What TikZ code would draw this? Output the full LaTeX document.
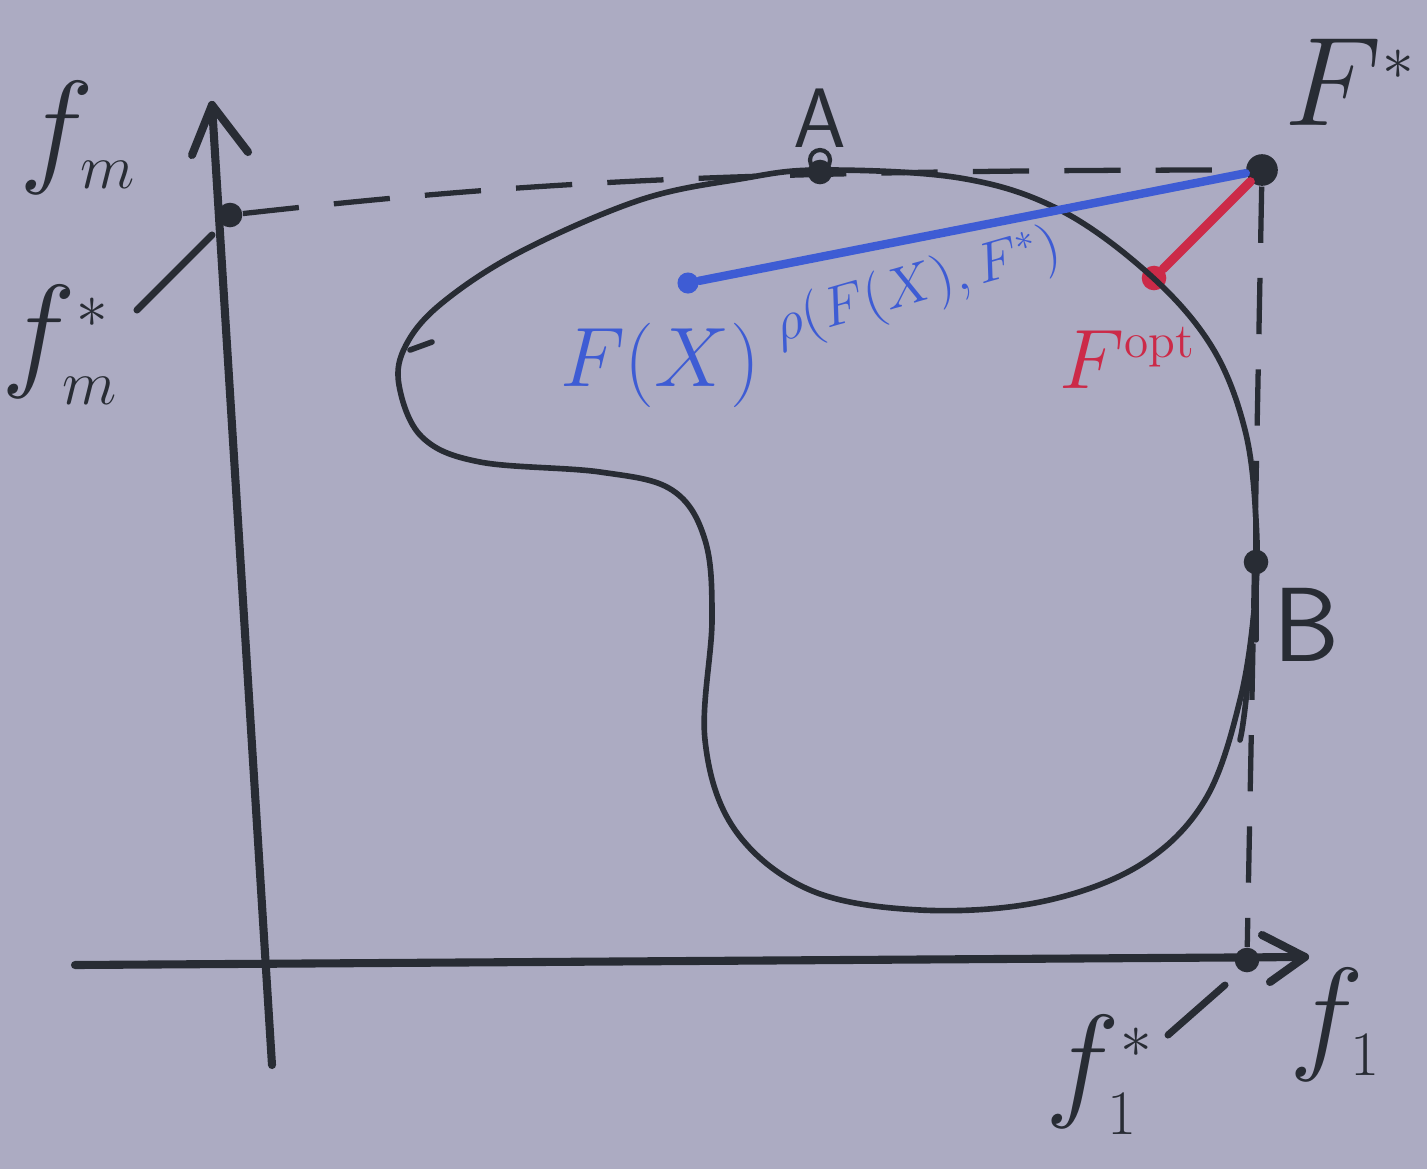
\RequirePackage{fix-cm}
\documentclass[tikz,border=0pt]{standalone}
\usepackage{amsmath}
\DeclareMathSizes{36}{36}{18}{14}
\DeclareMathSizes{30}{30}{16}{12}
\DeclareMathSizes{24}{24}{14}{10}
\DeclareMathSizes{16}{16}{11}{8}
\definecolor{bgc}{RGB}{172,171,194}
\definecolor{ink}{RGB}{40,44,52}
\definecolor{bink}{RGB}{62,92,212}
\definecolor{rink}{RGB}{204,42,72}
\tikzset{
  axisline/.style={ink,line width=2.3pt,line cap=round,line join=round},
  curveline/.style={ink,line width=1.6pt,line cap=round},
  dashline/.style={ink,line width=1.5pt,dash pattern=on 16pt off 10pt},
  dotnode/.style={circle,fill=ink,inner sep=0pt,minimum size=7pt},
  lbl/.style={text=ink,inner sep=0pt},
  bigf/.style={font=\fontsize{36}{42}\selectfont},
  midf/.style={font=\fontsize{30}{36}\selectfont},
  smallf/.style={font=\fontsize{24}{28}\selectfont},
}
\begin{document}
\begin{tikzpicture}[x=0.01cm,y=-0.01cm]
\fill[bgc] (0,0) rectangle (1427,1169);
\useasboundingbox (0,0) rectangle (1427,1169);

% axes
\coordinate (ybot) at (272,1065);
\coordinate (ytop) at (212,105);
\coordinate (xleft) at (75,965);
\coordinate (xright) at (1305,957);
\draw[axisline] (ybot) -- (ytop);
\draw[axisline] (192,155) -- (ytop) -- (248,152);
\draw[axisline] (xleft) -- (xright);
\draw[axisline] (1262,935) -- (xright) -- (1270,982);

% points
\node[dotnode] (fmstar) at (230,215) {};
\node[dotnode,minimum size=9pt] (Fstar) at (1262,170) {};
\node[dotnode] (f1star) at (1247,960) {};
\node[dotnode] (A) at (820,172) {};
\node[dotnode] (B) at (1256,562) {};
\node[circle,fill=bink,inner sep=0pt,minimum size=6pt] (FX) at (688,283) {};
\node[circle,fill=rink,inner sep=0pt,minimum size=7pt] (Fopt) at (1154,278) {};
\draw[ink,line width=1.2pt] (820,160) circle (10);

% dashed lines
\draw[dashline] (fmstar) .. controls (500,185) and (700,170) .. (Fstar);
\draw[dashline] (Fstar) -- (f1star);

% the blob
\draw[curveline] plot[smooth cycle,tension=0.6] coordinates {
 (820,170) (960,178) (1060,210) (1150,275) (1212,347) (1245,430)
 (1256,520) (1255,600) (1240,700) (1205,800) (1140,865) (1040,902)
 (920,910) (810,890) (735,830) (705,740) (712,620) (705,540)
 (672,490) (600,472) (480,462) (422,437) (399,385) (406,345)
 (442,303) (520,252) (640,200) (740,179)};
\draw[curveline] (410,350) -- (432,342);
\draw[curveline] (1256,590) .. controls (1250,660) and (1245,720) .. (1240,740);
\draw[axisline,line width=1.5pt] (1256,520) -- (1256,640);

% blue and red segments
\draw[bink,line width=2.4pt,line cap=round] (FX) -- (Fstar);
\draw[rink,line width=2.6pt,line cap=round] (Fopt) -- (Fstar);

% slashes
\coordinate (s1a) at (137,310);
\coordinate (s1b) at (212,235);
\draw[axisline,line width=2pt] (s1a) -- (s1b);
\coordinate (s2a) at (1168,1035);
\coordinate (s2b) at (1225,985);
\draw[axisline,line width=2pt] (s2a) -- (s2b);

% labels
\node[lbl,bigf] (lfm) at (78,138) {$f_{m}$};
\node[lbl,bigf] (lfmstar) at (60,345) {$f^{*}_{m}$};
\node[lbl,bigf] (lFstar) at (1350,82) {$F^{*}$};
\node[lbl,smallf] (lA) at (820,118) {$\mathsf{A}$};
\node[lbl,midf] (lB) at (1306,625) {$\mathsf{B}$};
\node[lbl,bigf] (lf1star) at (1100,1075) {$f^{*}_{1}$};
\node[lbl,bigf] (lf1) at (1335,1025) {$f_{1}$};
\node[text=bink,inner sep=0pt,smallf] (lFX) at (660,365) {$F(X)$};
\node[text=bink,inner sep=0pt,font=\fontsize{16}{19}\selectfont,rotate=16] (lrho) at (918,288) {$\rho(F(X),F^{*})$};
\node[text=rink,inner sep=0pt,smallf] (lFopt) at (1128,358) {$F^{\mathrm{opt}}$};
\end{tikzpicture}
\end{document}
